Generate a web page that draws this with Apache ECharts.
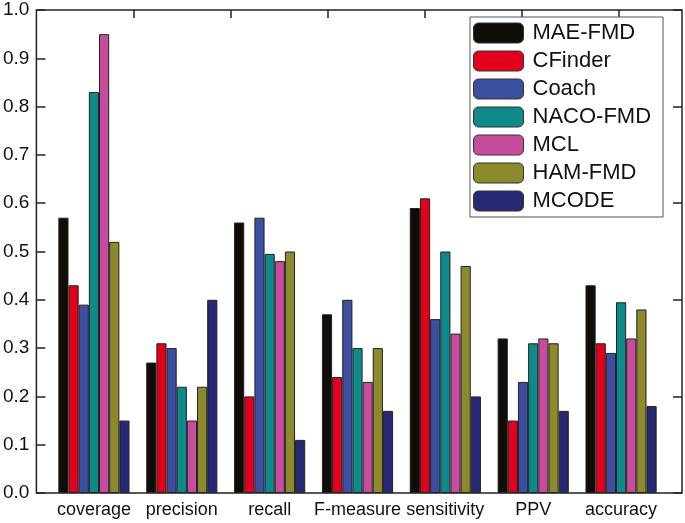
<!DOCTYPE html>
<html>
<head>
<meta charset="utf-8">
<script src="https://cdn.jsdelivr.net/npm/echarts@6/dist/echarts.min.js"></script>
<style>html,body{margin:0;padding:0;background:#fff;}#c{width:685px;height:523px;}</style>
</head>
<body>
<div id="c"></div>
<script>
const categories = ['coverage', 'precision', 'recall', 'F-measure', 'sensitivity', 'PPV', 'accuracy'];
const seriesNames = ['MAE-FMD', 'CFinder', 'Coach', 'NACO-FMD', 'MCL', 'HAM-FMD', 'MCODE'];
const maeFmd  = [0.57, 0.27, 0.56, 0.37, 0.59, 0.32, 0.43];
const cfinder = [0.43, 0.31, 0.20, 0.24, 0.61, 0.15, 0.31];
const coach   = [0.39, 0.30, 0.57, 0.40, 0.36, 0.23, 0.29];
const nacoFmd = [0.83, 0.22, 0.495, 0.30, 0.50, 0.31, 0.395];
const mcl     = [0.95, 0.15, 0.48, 0.23, 0.33, 0.32, 0.32];
const hamFmd  = [0.52, 0.22, 0.50, 0.30, 0.47, 0.31, 0.38];
const mcode   = [0.15, 0.40, 0.11, 0.17, 0.20, 0.17, 0.18];
const yTicks = [0, 0.1, 0.2, 0.3, 0.4, 0.5, 0.6, 0.7, 0.8, 0.9, 1.0];
const topTicks = [1, 2, 3, 4, 5, 6];

const allValues = [maeFmd, cfinder, coach, nacoFmd, mcl, hamFmd, mcode];
const colors = ['#100c08', '#e2001a', '#3c4ea0', '#0e8a8a', '#c84c9e', '#8c8a2c', '#272975'];
const axisColor = '#222';
const font = 'Liberation Sans, Arial, sans-serif';

const chart = echarts.init(document.getElementById('c'), null, {renderer: 'canvas'});
chart.setOption({
  animation: false,
  backgroundColor: '#fff',
  grid: [
    {left: 33, right: 3, top: 10, height: 483, show: true, borderColor: axisColor, borderWidth: 1.5, backgroundColor: 'transparent'},
    {left: 50, width: 615, top: 10, height: 483}
  ],
  legend: {
    data: seriesNames,
    orient: 'vertical',
    left: 470, top: 17,
    itemWidth: 50, itemHeight: 20, itemGap: 6,
    padding: [5, 12, 5, 3],
    borderColor: '#555', borderWidth: 1,
    backgroundColor: '#fff',
    textStyle: {fontFamily: font, fontSize: 22, color: '#111', padding: [0, 0, 0, 4]},
    itemStyle: {borderColor: '#333', borderWidth: 1}
  },
  xAxis: [
    {type: 'value', gridIndex: 0, position: 'top', min: 0, max: 6.656,
     axisLine: {show: false, onZero: false},
     axisTick: {show: true, inside: true, length: 8, customValues: topTicks, lineStyle: {color: axisColor, width: 1.5}},
     axisLabel: {show: false}, splitLine: {show: false}},
    {type: 'category', gridIndex: 1, data: categories,
     axisLine: {show: false, onZero: false}, axisTick: {show: false},
     axisLabel: {interval: 0, fontFamily: font, fontSize: 18, color: '#111', margin: 8}}
  ],
  yAxis: [
    {type: 'value', gridIndex: 0, position: 'left', min: 0, max: 1, interval: 0.1,
     axisLine: {show: false, onZero: false},
     axisTick: {show: true, inside: true, length: 9, lineStyle: {color: axisColor, width: 1.5}},
     axisLabel: {fontFamily: font, fontSize: 19, color: '#111', margin: 7,
                 formatter: v => yTicks.find(t => Math.abs(t - v) < 1e-9).toFixed(1)},
     splitLine: {show: false}},
    {type: 'value', gridIndex: 0, position: 'right', min: 0, max: 1, interval: 0.2,
     axisLine: {show: false, onZero: false},
     axisTick: {show: true, inside: true, length: 9, lineStyle: {color: axisColor, width: 1.5}},
     axisLabel: {show: false}, splitLine: {show: false}},
    {type: 'value', gridIndex: 1, min: 0, max: 1, show: false, splitLine: {show: false}}
  ],
  series: seriesNames.map((name, i) => ({
    name: name,
    type: 'bar',
    xAxisIndex: 1, yAxisIndex: 2,
    data: allValues[i],
    barGap: '0%',
    barCategoryGap: '19%',
    itemStyle: {color: colors[i], borderColor: '#222', borderWidth: 1}
  }))
});
</script>
</body>
</html>
